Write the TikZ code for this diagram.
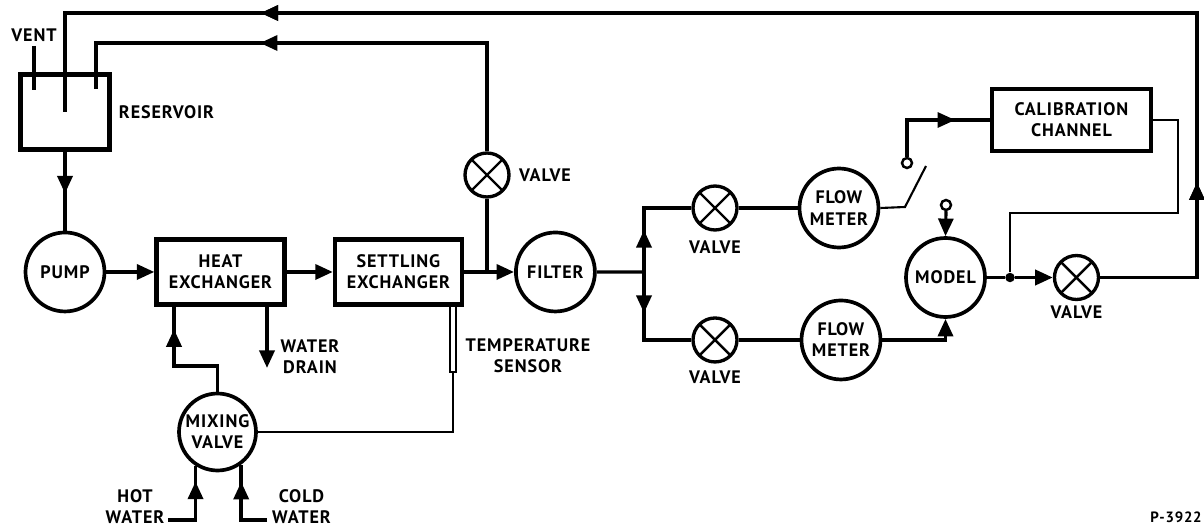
\documentclass[tikz,border=0pt]{standalone}
\usepackage{fontspec}
\setmainfont[LetterSpace=5]{PT Sans}
\usetikzlibrary{arrows.meta,decorations.markings}

\begin{document}
\begin{tikzpicture}[x=0.02cm,y=-0.02cm,>={Triangle[length=10pt,width=8.5pt]},node distance=3cm,
 pipe/.style={line width=2.1pt},
 feed/.style={line width=1.8pt},
 wire/.style={line width=1.2pt},
 tag/.style={font=\bfseries\fontsize{10.3}{12}\selectfont,align=center,inner sep=0pt},
 tank/.style={draw,line width=2.3pt,inner sep=0pt,minimum width=1.78cm,minimum height=1.5cm},
 unit/.style={draw,line width=2.4pt,tag,minimum width=2.56cm,minimum height=1.3cm},
 ball/.style={circle,draw,line width=2.1pt,tag,minimum size=1.58cm},
 valve/.style={circle,draw,line width=1.9pt,inner sep=0pt,minimum size=0.88cm,
  path picture={\draw[line width=1.4pt] (path picture bounding box.north west) -- (path picture bounding box.south east)
  (path picture bounding box.north east) -- (path picture bounding box.south west);}},
 contact/.style={circle,draw,line width=1.4pt,inner sep=0pt,minimum size=0.2cm},
 tipat/.style={postaction={decorate},decoration={markings,mark=at position #1 with {\arrow{>}}}}]
 \useasboundingbox (0,0) rectangle (1204,527);

 \node[tank] (reservoir) at (65,112) {};
 \node[ball] (pump) [below of=reservoir,node distance=3.2cm] {PUMP};
 \node[unit] (heat) [right of=pump,node distance=3.11cm] {HEAT\\EXCHANGER};
 \node[unit,minimum width=2.54cm] (settling) [right of=heat,node distance=3.56cm] {SETTLING\\EXCHANGER};
 \node[ball] (filter) [right of=settling,node distance=3.14cm] {FILTER};
 \node[valve] (vtop) at (487,175) {};
 \node[ball,minimum size=1.54cm] (mixing) at (217.5,432) {MIXING\\VALVE};
 \node[draw,fill=white,line width=1.5pt,inner sep=0pt,minimum width=0.12cm,minimum height=1.32cm] (sensor) at (453,339) {};
 \node[valve] (vup) at (715,208) {};
 \node[valve] (vlow) [below of=vup,node distance=2.64cm] {};
 \node[ball] (flowup) [right of=vup,node distance=2.48cm] {FLOW\\METER};
 \node[ball] (flowlow) [right of=vlow,node distance=2.52cm] {FLOW\\METER};
 \node[ball] (model) at (945.5,277.5) {MODEL};
 \node[valve] (vout) [right of=model,node distance=2.62cm] {};
 \node[unit,minimum width=3.18cm,minimum height=1.24cm] (calib) at (1071.5,120) {CALIBRATION\\CHANNEL};
 \node[contact] (swtop) at (907,163) {};
 \node[contact] (modelin) at (946,205) {};
 \node[circle,fill,inner sep=0pt,minimum size=0.19cm] (dot) at (1010,277.5) {};

 \node[tag] (venttag) at (34,35) {VENT};
 \node[tag] (restag) [right of=reservoir,node distance=2.03cm] {RESERVOIR};
 \node[tag] (vtoptag) [right of=vtop,node distance=1.16cm] {VALVE};
 \node[tag] (vuptag) [below of=vup,node distance=0.78cm] {VALVE};
 \node[tag] (vlowtag) [below of=vlow,node distance=0.74cm] {VALVE};
 \node[tag] (vouttag) [below of=vout,node distance=0.7cm] {VALVE};
 \node[tag] (draintag) at (310,357) {WATER\\DRAIN};
 \node[tag] (sensortag) at (528,356) {TEMPERATURE\\SENSOR};
 \node[tag] (hottag) at (135,507) {HOT\\WATER};
 \node[tag] (coldtag) at (301.5,507) {COLD\\WATER};
 \node[tag,font=\bfseries\fontsize{8.5}{10}\selectfont] (stamp) at (1176,517) {P-3922};

 \coordinate (ventin) at (34,90);
 \coordinate (ventout) at (34,46);
 \coordinate (mainin) at (65,112);
 \coordinate (sidein) at (96,89);
 \coordinate (corner) at (1197,13);
 \coordinate (sidetop) at (96,43);
 \coordinate (fork) at (644,272);
 \coordinate (hotin) at (168,520);
 \coordinate (coldin) at (267,520);
 \coordinate (heatin) at (174,307);
 \coordinate (mixbend) at (174,366);
 \coordinate (drainout) at (267,307);
 \coordinate (drain) at (267,368);
 \coordinate (swpivot) at (905,207);
 \coordinate (swarm) at (926,166);
 \coordinate (calout) at (1178,120);
 \coordinate (calback) at (1178,213);

 \draw[pipe] (ventout) -- (ventin);
 \draw[pipe,tipat=3.84cm,tipat=25.96cm] (vout.east) -| (corner) -| (mainin);
 \draw[pipe,tipat=6.71cm] (vtop.north) |- (sidetop) -- (sidein);
 \draw[pipe,tipat=0.84cm] (reservoir.south) -- (pump.north);
 \draw[pipe,->] (pump.east) -- (heat.west);
 \draw[pipe,->] (heat.east) -- (settling.west);
 \draw[pipe,->] (settling.east) -- (filter.west);
 \draw[pipe] (vtop.south) -- (vtop.south |- settling.east);
 \draw[feed] (filter.east) -- (fork);
 \draw[pipe,tipat=0.84cm] (fork) |- (vup.west);
 \draw[pipe,tipat=0.82cm] (fork) |- (vlow.west);
 \draw[feed] (vup.east) -- (flowup.west);
 \draw[feed] (vlow.east) -- (flowlow.west);
 \draw[wire] (flowup.east) -- (swpivot) -- (swarm);
 \draw[feed,tipat=1.7cm] (swtop.north) |- (calib.west);
 \draw[wire] (calib.east) -- (calout) -- (calback) -| (dot);
 \draw[feed,->] (modelin.south) -- (model.north);
 \draw[pipe,->] (flowlow.east) -| (model.south);
 \draw[pipe] (model.east) -- (dot);
 \draw[pipe,->] (dot) -- (vout.west);
 \draw[pipe,tipat=2.12cm] (mixing.north) |- (mixbend) -- (heatin);
 \draw[pipe,->] (drainout) -- (drain);
 \draw[wire] (mixing.east) -| (sensor.south);
 \draw[pipe,tipat=1.32cm] (hotin) -| (mixing.237);
 \draw[pipe,tipat=1.28cm] (coldin) -| (mixing.306);
\end{tikzpicture}
\end{document}
